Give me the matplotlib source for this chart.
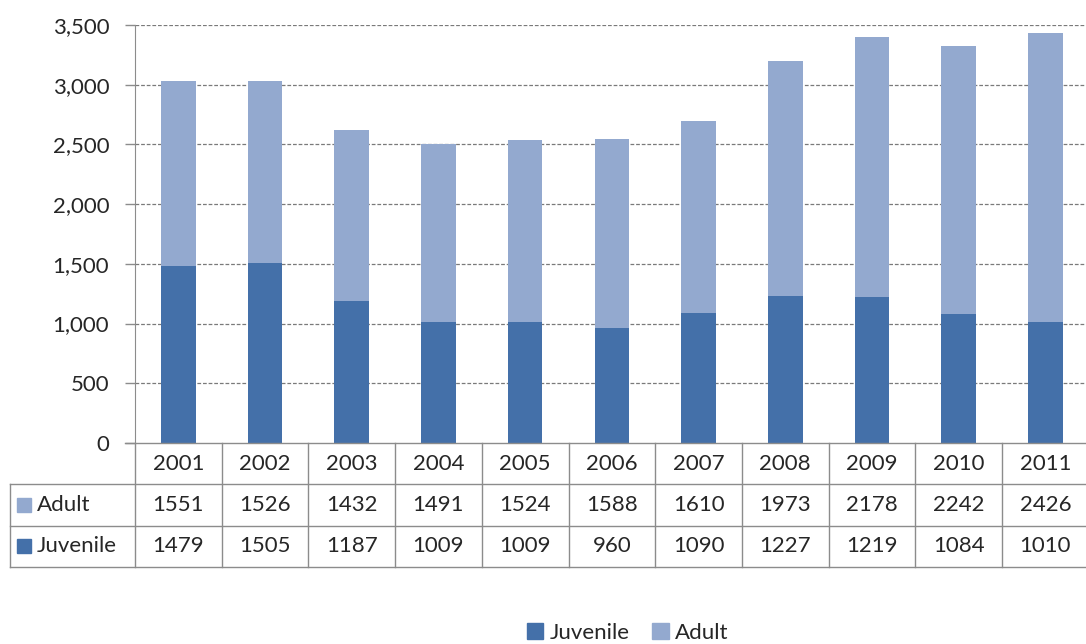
import matplotlib.pyplot as plt
import numpy as np
from matplotlib.patches import Patch, Rectangle

years = ["2001", "2002", "2003", "2004", "2005", "2006",
         "2007", "2008", "2009", "2010", "2011"]
adult = [1551, 1526, 1432, 1491, 1524, 1588, 1610, 1973, 2178, 2242, 2426]
juvenile = [1479, 1505, 1187, 1009, 1009, 960, 1090, 1227, 1219, 1084, 1010]
y_ticks = [0, 500, 1000, 1500, 2000, 2500, 3000, 3500]

juv_color = "#4470a9"
adult_color = "#93a9cf"
line_color = "#8c8c8c"
text_color = "#262626"

plt.rcParams["font.family"] = ["Lato", "DejaVu Sans"]
plt.rcParams["font.size"] = 16

W, H = 1086, 644
fig = plt.figure(figsize=(W / 100, H / 100), dpi=100)


def px_box(left, top, right, bottom):
    return (left / W, 1 - bottom / H, (right - left) / W, (bottom - top) / H)


col_w = 86.7
plot_left, plot_right = 135, 135 + col_w * len(years)
y_zero, y_top = 443, 25

# stacked bars
ax = fig.add_axes(px_box(plot_left, y_top, plot_right, y_zero))
x = np.arange(len(years))
ax.bar(x, juvenile, width=0.4, color=juv_color, zorder=3)
ax.bar(x, adult, width=0.4, bottom=juvenile, color=adult_color, zorder=3)
ax.set_xlim(-0.5, len(years) - 0.5)
ax.set_ylim(0, 3500)
ax.set_yticks(y_ticks)
ax.set_yticklabels([f"{v:,}" for v in y_ticks], color=text_color)
ax.set_xticks([])
for side in ["top", "right", "bottom"]:
    ax.spines[side].set_visible(False)
ax.spines["left"].set_color(line_color)
ax.tick_params(axis="y", length=7.5, width=1, color=line_color, pad=11)
for v in y_ticks[1:]:
    ax.axhline(v, color="#7a7a7a", lw=0.9, ls=(0, (3, 1.5)), zorder=1)

# data table under the bars
tab = fig.add_axes(px_box(plot_left, y_zero, plot_right, 567))
tab.set_xlim(-0.5, len(years) - 0.5)
tab.set_ylim(3, 0)
tab.axis("off")
label_left = -0.5 - (plot_left - 10) / col_w
kw = dict(color=line_color, lw=1, clip_on=False)
tab.plot([-0.5 - 10 / col_w, len(years) - 0.5], [0, 0], **kw)
for r in [1, 2, 3]:
    tab.plot([label_left, len(years) - 0.5], [r, r], **kw)
tab.plot([label_left, label_left], [1, 3], **kw)
for c in range(len(years) + 1):
    tab.plot([c - 0.5, c - 0.5], [0, 3], **kw)

rows = [("Adult", adult, adult_color), ("Juvenile", juvenile, juv_color)]
for c, yr in enumerate(years):
    tab.text(c, 0.5, yr, ha="center", va="center", color=text_color)
for r, (name, vals, color) in enumerate(rows, start=1):
    sq = 14 / col_w
    tab.add_patch(Rectangle((label_left + 7 / col_w, r + 0.5 - 0.17), sq, 0.34,
                            color=color, clip_on=False))
    tab.text(label_left + 27 / col_w, r + 0.5, name, ha="left", va="center",
             color=text_color)
    for c, v in enumerate(vals):
        tab.text(c, r + 0.5, str(v), ha="center", va="center",
                 color=text_color)

handles = [Patch(color=juv_color, label="Juvenile"),
           Patch(color=adult_color, label="Adult")]
fig.legend(handles=handles, loc="center", bbox_to_anchor=(0.578, 1 - 633 / H),
           ncol=2, frameon=False, handlelength=0.75, handleheight=0.75,
           handletextpad=0.3, columnspacing=1.0, labelcolor=text_color)

fig.savefig("out.png", dpi=100)
